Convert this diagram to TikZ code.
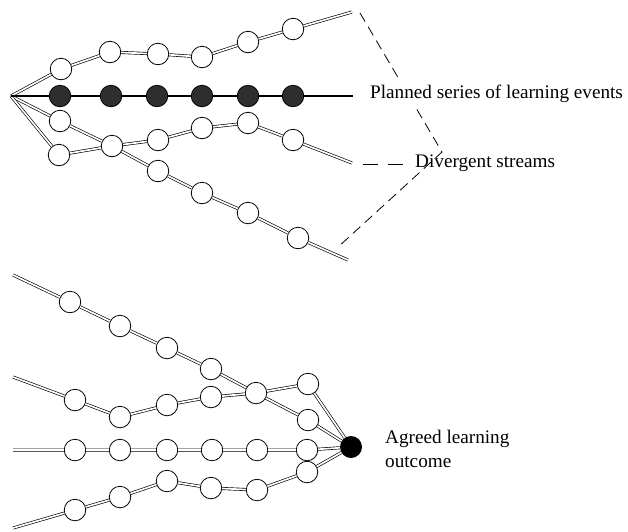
\documentclass[tikz,border=0pt]{standalone}
\usepackage{fontspec}
\setmainfont{Liberation Serif}
\begin{document}
\begin{tikzpicture}[x=1pt,y=-1pt,
  event/.style={circle,draw=black,line width=0.8pt,fill=white,minimum size=21.5pt,inner sep=0pt},
  planned/.style={event,fill=black!82},
  outcome/.style={circle,fill=black,minimum size=22pt,inner sep=0pt},
  stream/.style={draw=black,line width=0.65pt,double=white,double distance=1.7pt},
  mainline/.style={draw=black,line width=2.3pt},
  guide/.style={draw=black,line width=0.8pt,dash pattern=on 10pt off 6pt},
  label/.style={font=\fontsize{19.2}{24}\selectfont,inner sep=0pt,text=black}]
\useasboundingbox (0,0) rectangle (628,531);

% ---------- upper figure: streams diverging from one start ----------
\coordinate (o) at (11,96);
\coordinate (te) at (352,12);
\coordinate (pe) at (353,96);
\coordinate (se) at (348,260);
\coordinate (ue) at (352,163);

\foreach \n/\x/\y in {t1/61/69,t2/110/52,t3/158/54,t4/202/57,t5/248/42,t6/293/29,
                      s1/60/121,x/112/146,s3/158/171,s4/202/193,s5/248/213,s6/298/238,
                      u1/59/155,u3/158/140,u4/202/128,u5/248/123,u6/293/140}
  \node[event] (\n) at (\x,\y) {};
\foreach \n/\x in {p1/60,p2/111,p3/157,p4/202,p5/248,p6/293}
  \node[planned] (\n) at (\x,96) {};

\draw[stream] (o) -- (t1) -- (t2) -- (t3) -- (t4) -- (t5) -- (t6) -- (te);
\draw[stream] (o) -- (s1) -- (x) -- (s3) -- (s4) -- (s5) -- (s6) -- (se);
\draw[stream] (o) -- (u1) -- (x) -- (u3) -- (u4) -- (u5) -- (u6) -- (ue);
\draw[mainline] (o) -- (p1) -- (p2) -- (p3) -- (p4) -- (p5) -- (p6) -- (pe);

% labels with their dashed guides
\coordinate (d1) at (360,13);
\coordinate (dv) at (442,152);
\coordinate (d3) at (337,248);
\coordinate (d2) at (363,164);
\draw[guide] (d1) -- (dv) -- (d3);
\node[label,fill=white,inner xsep=2pt,inner ysep=4pt,anchor=base west] (plan) at (368,98)
  {Planned series of learning events};
\node[label,anchor=base west] (div) at (415,167) {Divergent streams};
\draw[guide,dash pattern=on 15pt off 10pt] (d2) -- ([xshift=-9pt]div.west |- d2);

% ---------- lower figure: streams converging on one outcome ----------
\node[outcome] (g) at (351,447) {};
\coordinate (a0) at (13,275);
\coordinate (b0) at (13,377);
\coordinate (c0) at (13,450);
\coordinate (e0) at (13,528);

\foreach \n/\x/\y in {a1/70/302,a2/120/326,a3/167/348,a4/211/369,j/256/393,a6/308/420,
                      b1/75/400,b2/120/417,b3/167/405,b4/211/397,b6/308/384,
                      c1/75/450,c2/120/450,c3/167/450,c4/212/450,c5/257/450,c6/307/450,
                      e1/75/510,e2/120/497,e3/167/481,e4/211/488,e5/257/490,e6/307/472}
  \node[event] (\n) at (\x,\y) {};

\draw[stream] (a0) -- (a1) -- (a2) -- (a3) -- (a4) -- (j) -- (a6) -- (g);
\draw[stream] (b0) -- (b1) -- (b2) -- (b3) -- (b4) -- (j) -- (b6) -- (g);
\draw[stream] (c0) -- (c1) -- (c2) -- (c3) -- (c4) -- (c5) -- (c6) -- (g);
\draw[stream] (e0) -- (e1) -- (e2) -- (e3) -- (e4) -- (e5) -- (e6) -- (g);

\node[label,align=left,anchor=west] (agreed) at (385,448.5) {Agreed learning\\outcome};
\end{tikzpicture}
\end{document}
